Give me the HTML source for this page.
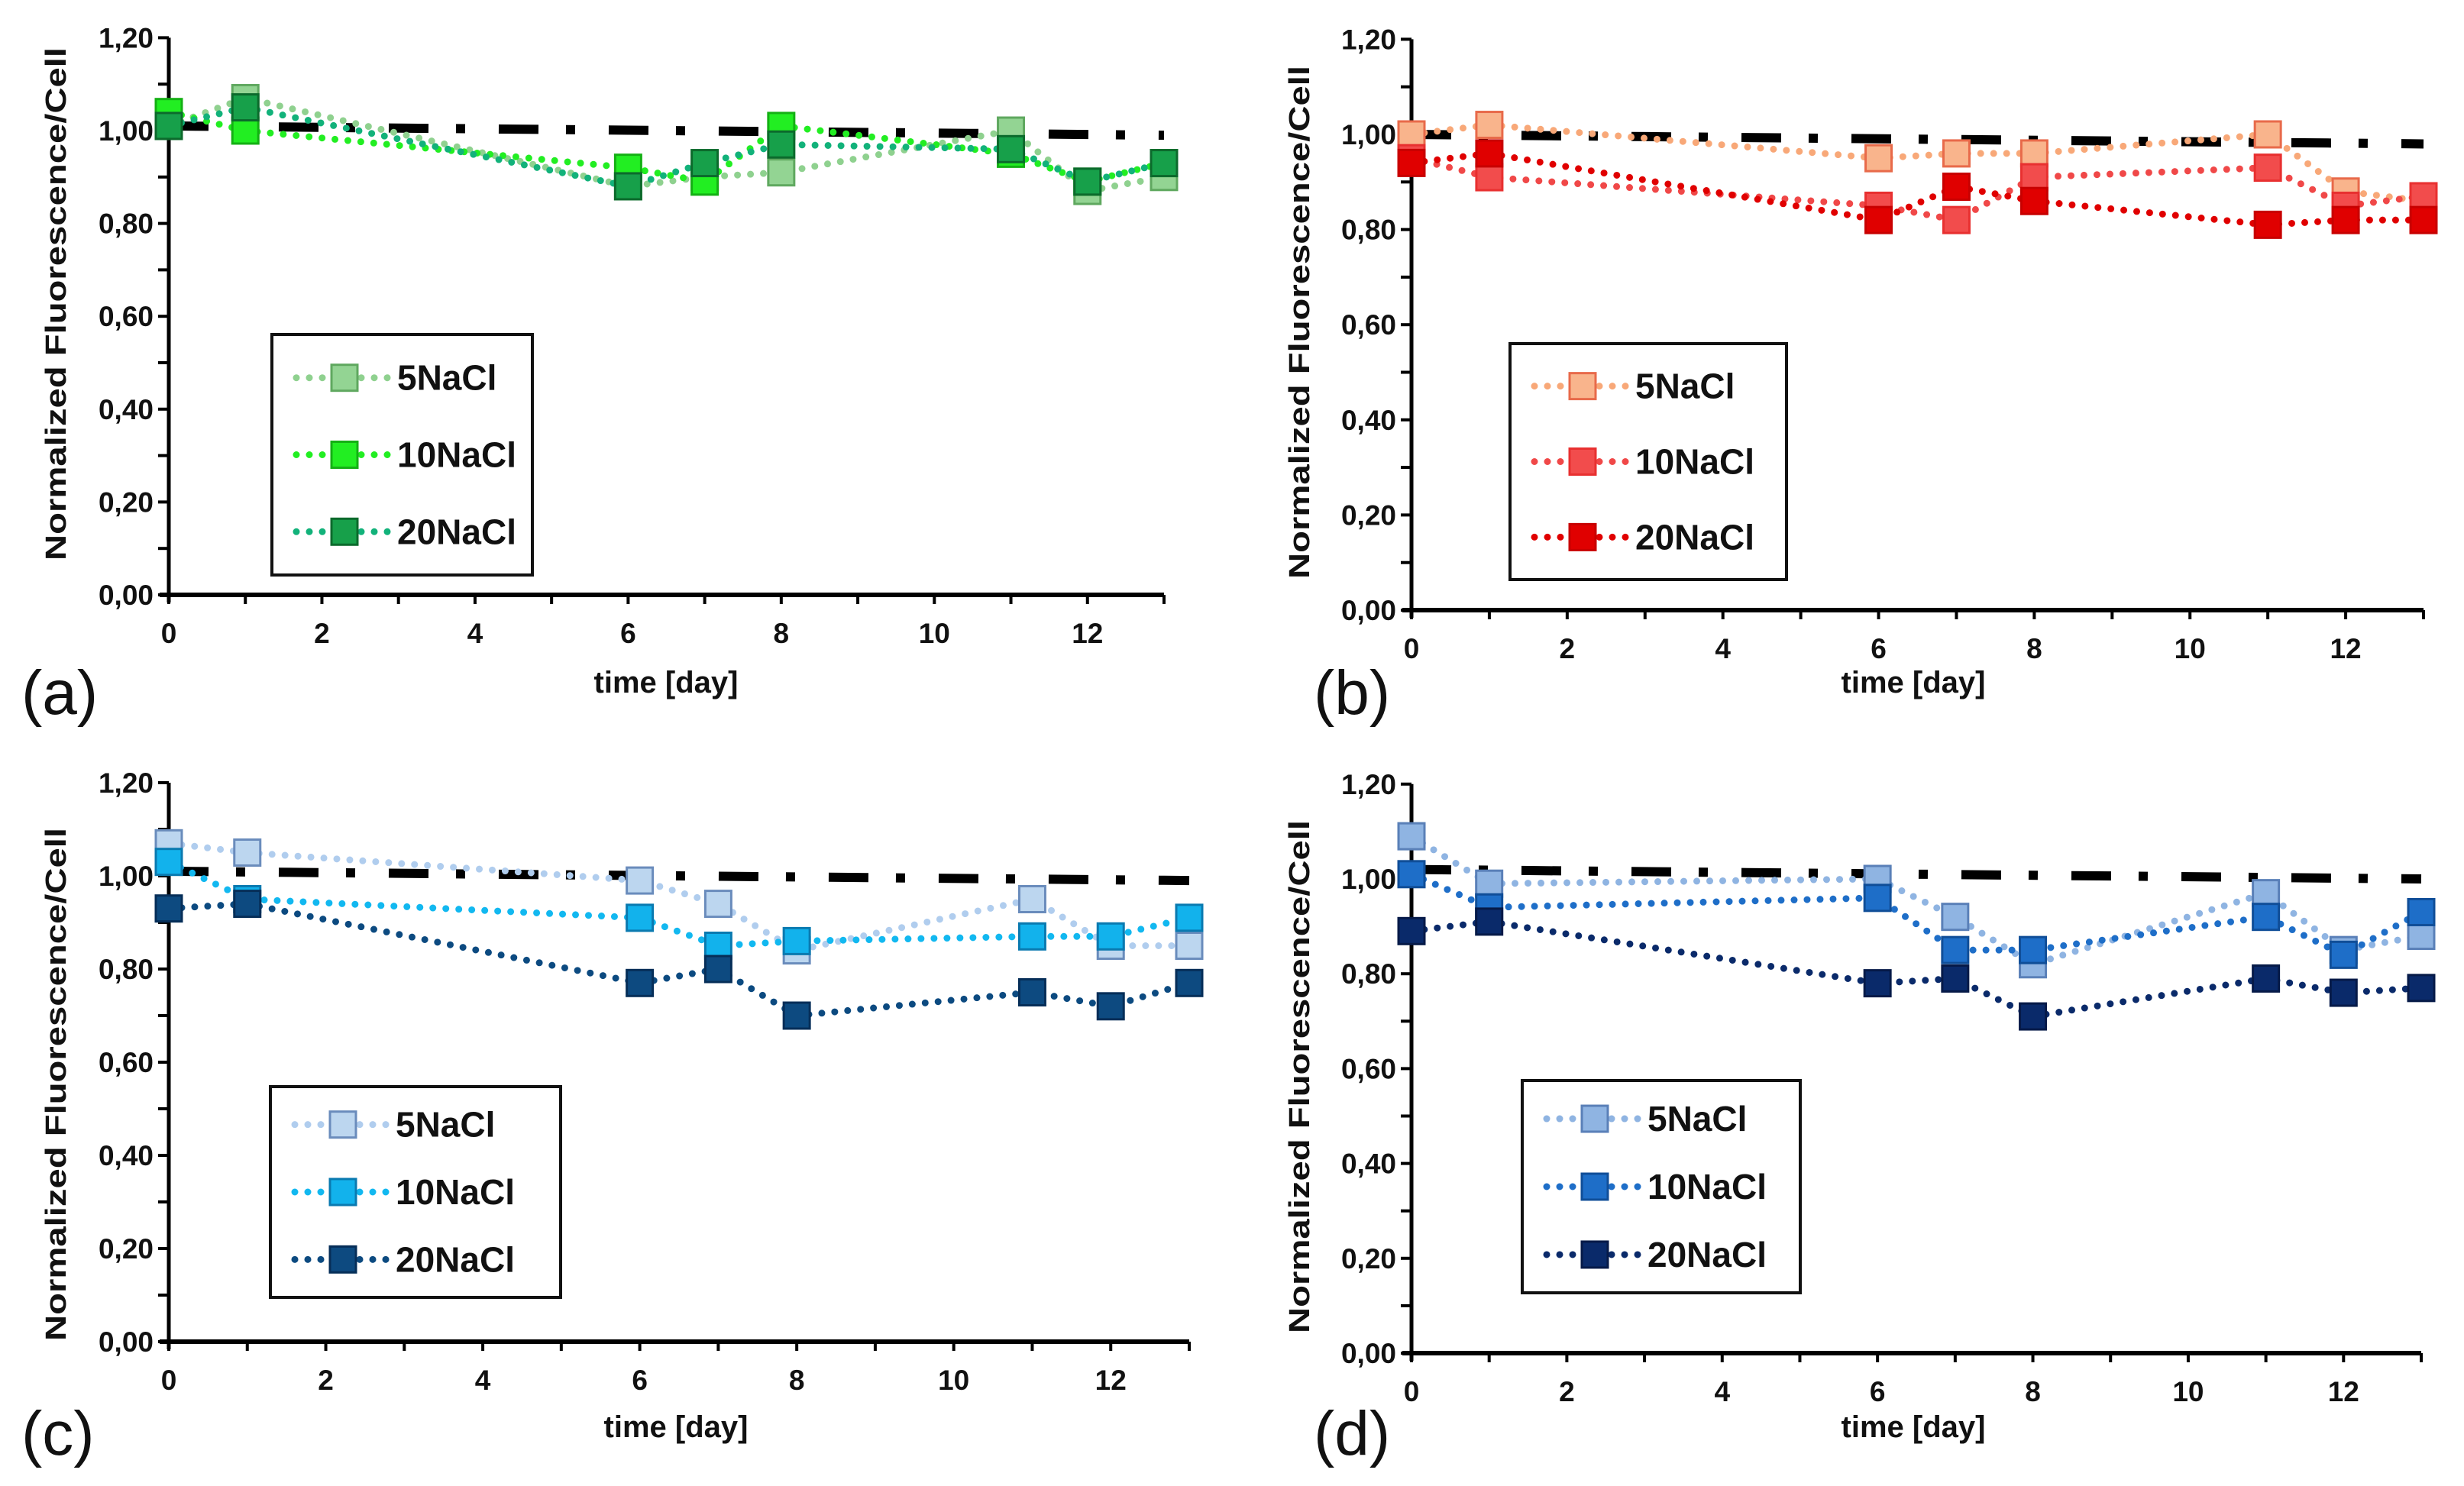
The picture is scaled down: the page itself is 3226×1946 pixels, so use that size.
<!DOCTYPE html>
<html><head><meta charset="utf-8"><style>
html,body{margin:0;padding:0;background:#fff}
svg{display:block}
text{font-family:"Liberation Sans",Arial,sans-serif}
</style></head><body>
<svg id="fig" width="3226" height="1946" viewBox="0 0 3226 1946" xmlns="http://www.w3.org/2000/svg"></svg>
<script>
const days = [0, 1, 6, 7, 8, 11, 12, 13];
const seriesNames = ["5NaCl", "10NaCl", "20NaCl"];
const yTicks = [0, 0.2, 0.4, 0.6, 0.8, 1.0, 1.2];
const yTickLabels = ["0,00", "0,20", "0,40", "0,60", "0,80", "1,00", "1,20"];
const xTicks = [0, 2, 4, 6, 8, 10, 12];
const xTickLabels = ["0", "2", "4", "6", "8", "10", "12"];

const a5 = [1.01, 1.07, 0.88, 0.90, 0.91, 1.00, 0.87, 0.90];
const a10 = [1.04, 1.00, 0.92, 0.89, 1.01, 0.95, 0.89, 0.93];
const a20 = [1.01, 1.05, 0.88, 0.93, 0.97, 0.96, 0.89, 0.93];
const aRef = [1.01, 0.99];

const b5 = [1.00, 1.02, 0.95, 0.96, 0.96, 1.00, 0.88, 0.86];
const b10 = [0.95, 0.91, 0.85, 0.82, 0.91, 0.93, 0.85, 0.87];
const b20 = [0.94, 0.96, 0.82, 0.89, 0.86, 0.81, 0.82, 0.82];
const bRef = [1.00, 0.98];

const c5 = [1.07, 1.05, 0.99, 0.94, 0.84, 0.95, 0.85, 0.85];
const c10 = [1.03, 0.95, 0.91, 0.85, 0.86, 0.87, 0.87, 0.91];
const c20 = [0.93, 0.94, 0.77, 0.80, 0.70, 0.75, 0.72, 0.77];
const cRef = [1.01, 0.99];

const d5 = [1.09, 0.99, 1.00, 0.92, 0.82, 0.97, 0.85, 0.88];
const d10 = [1.01, 0.94, 0.96, 0.85, 0.85, 0.92, 0.84, 0.93];
const d20 = [0.89, 0.91, 0.78, 0.79, 0.71, 0.79, 0.76, 0.77];
const dRef = [1.02, 1.00];

const NS = "http://www.w3.org/2000/svg";
const svg = document.getElementById("fig");
function mk(tag, attrs, parent) {
  const e = document.createElementNS(NS, tag);
  for (const k in attrs) e.setAttribute(k, attrs[k]);
  (parent || svg).appendChild(e);
  return e;
}

const panels = [
  {id:"a", x0:221, x13:1524, y0:779, unit:608, data:[a5,a10,a20], ref:aRef,
   fills:["#93d493","#22ee22","#17a04a"], strokes:["#5fa85f","#14b014","#0c6a2c"], lines:["#8fd18f","#22ee22","#12b27a"],
   legend:[356,438,697,753], label:[28,935], ytitle:[72,398], xtitle:[872,907]},
  {id:"b", x0:1848, x13:3173, y0:799, unit:623, data:[b5,b10,b20], ref:bRef,
   fills:["#f9b48c","#f24c4c","#e00000"], strokes:["#e86a4a","#e83030","#c80000"], lines:["#f8a878","#f04848","#e00000"],
   legend:[1977,450,2339,759], label:[1720,935], ytitle:[1700,422], xtitle:[2505,907]},
  {id:"c", x0:221, x13:1557, y0:1757, unit:610, data:[c5,c10,c20], ref:cRef,
   fills:["#bcd6ef","#12b2ec","#0d4a80"], strokes:["#6a8cbc","#0a7ab0","#062e58"], lines:["#b0cdee","#12b8f0","#0c4a80"],
   legend:[354,1423,734,1699], label:[28,1905], ytitle:[72,1420], xtitle:[885,1882]},
  {id:"d", x0:1848, x13:3170, y0:1772, unit:621, data:[d5,d10,d20], ref:dRef,
   fills:["#8fb4e2","#1e6ec8","#0a2a6a"], strokes:["#5a80b8","#104e98","#061a48"], lines:["#8fb4e2","#1e6ec8","#0a2a6a"],
   legend:[1993,1415,2357,1693], label:[1720,1905], ytitle:[1700,1410], xtitle:[2505,1882]}
];

panels.forEach(p => {
  const g = mk("g", {});
  
  
  const dx = (p.x13 - p.x0) / 13;
  const X = d => p.x0 + d * dx;
  const Y = v => p.y0 - v * p.unit;

  const yAxis = mk("line", {x1:p.x0, y1:Y(1.2), x2:p.x0, y2:p.y0+10, stroke:"#000", "stroke-width":5}, g);
  
  
  const xAxis = mk("line", {x1:p.x0-12, y1:p.y0, x2:X(13), y2:p.y0, stroke:"#000", "stroke-width":6}, g);
  
  
  for (let t = 0; t <= 12; t++) {
    const v = t * 0.1;
    mk("line", {x1:p.x0-14, y1:Y(v), x2:p.x0, y2:Y(v), stroke:"#000", "stroke-width":4}, g);
  }
  for (let d = 0; d <= 13; d++) {
    mk("line", {x1:X(d), y1:p.y0, x2:X(d), y2:p.y0+12, stroke:"#000", "stroke-width":4}, g);
  }
  yTicks.forEach((v, i) => {
    const t = mk("text", {x:p.x0-20, y:Y(v)+13, "text-anchor":"end", "font-size":37, "font-weight":"bold", fill:"#111"}, g);
    t.textContent = yTickLabels[i];
    
    
  });
  xTicks.forEach((d, i) => {
    const t = mk("text", {x:X(d), y:p.y0+63, "text-anchor":"middle", "font-size":37, "font-weight":"bold", fill:"#111"}, g);
    t.textContent = xTickLabels[i];
    
    
  });
  const xt = mk("text", {x:p.xtitle[0], y:p.xtitle[1], "text-anchor":"middle", "font-size":40, "font-weight":"bold", fill:"#111"}, g);
  xt.textContent = "time [day]";
  
  
  const yt = mk("text", {x:0, y:0, "text-anchor":"middle", "font-size":38, "font-weight":"bold", fill:"#111",
    transform:`translate(${p.ytitle[0]+14},${p.ytitle[1]}) rotate(-90)`, textLength:672, lengthAdjust:"spacingAndGlyphs"}, g);
  yt.textContent = "Normalized Fluorescence/Cell";
  
  
  const pl = mk("text", {x:p.label[0], y:p.label[1], "font-size":82, fill:"#111"}, g);
  pl.textContent = "(" + p.id + ")";
  
  

  const ref = mk("line", {x1:X(0), y1:Y(p.ref[0]), x2:X(13), y2:Y(p.ref[1]), stroke:"#000", "stroke-width":12,
    "stroke-dasharray":"52 36 12 44"}, g);
  
  

  p.data.forEach((vals, si) => {
    const pts = vals.map((v, i) => X(days[i]) + "," + Y(v)).join(" ");
    const ln = mk("polyline", {points:pts, fill:"none", stroke:p.lines[si], "stroke-width":9,
      "stroke-linecap":"round", "stroke-dasharray":"0 17"}, g);
    
    
  });
  p.data.forEach((vals, si) => {
    vals.forEach((v, i) => {
      const r = mk("rect", {x:X(days[i])-17, y:Y(v)-17, width:34, height:34, fill:p.fills[si], stroke:p.strokes[si], "stroke-width":3}, g);
      
      
    });
  });

  const L = p.legend;
  const lg = mk("g", {}, g);
  
  
  mk("rect", {x:L[0], y:L[1], width:L[2]-L[0], height:L[3]-L[1], fill:"#fff", stroke:"#111", "stroke-width":4}, lg);
  const h = L[3] - L[1];
  seriesNames.forEach((nm, si) => {
    const cy = L[1] + h * (0.18 + si * 0.32);
    const e = mk("g", {}, lg);
    
    
    mk("line", {x1:L[0]+32, y1:cy, x2:L[0]+158, y2:cy, stroke:p.lines[si], "stroke-width":9,
      "stroke-linecap":"round", "stroke-dasharray":"0 17"}, e);
    mk("rect", {x:L[0]+95-17, y:cy-17, width:34, height:34, fill:p.fills[si], stroke:p.strokes[si], "stroke-width":3}, e);
    const t = mk("text", {x:L[0]+164, y:cy+16, "font-size":46, "font-weight":"bold", fill:"#111"}, e);
    t.textContent = nm;
  });
});
</script>
</body></html>
